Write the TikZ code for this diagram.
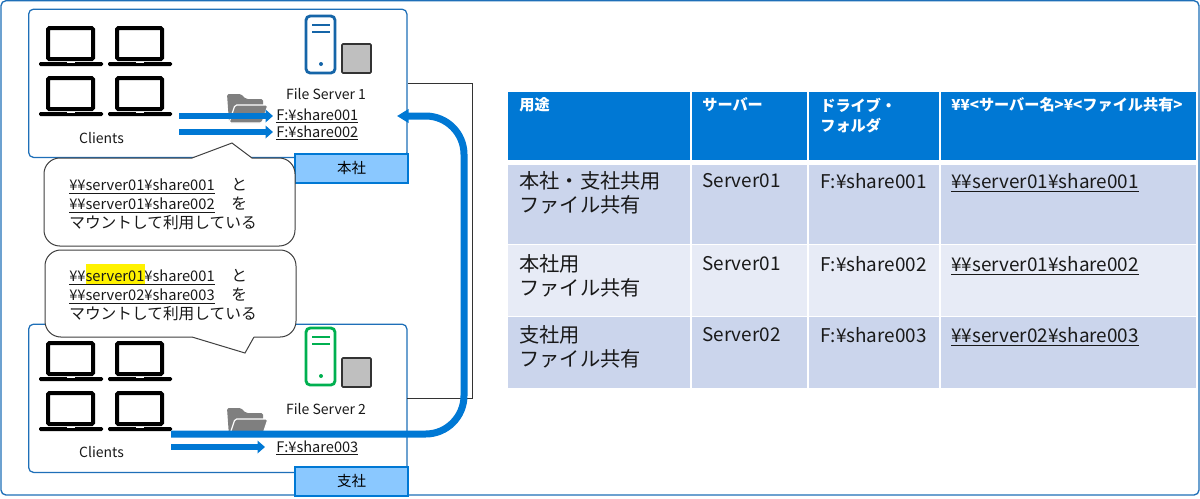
\documentclass[tikz,border=0pt]{standalone}
\usepackage{fontspec}
\setmainfont{Noto Sans CJK JP}
\newfontfamily\jpf[Scale=1.07]{Noto Sans CJK JP}
\newcommand{\J}[1]{{\jpf #1}}
\usetikzlibrary{arrows.meta}
\definecolor{msblue}{HTML}{0078D4}
\definecolor{framebl}{HTML}{1E6FB8}
\definecolor{tagfill}{HTML}{8AC8FF}
\definecolor{rowa}{HTML}{CBD5EC}
\definecolor{rowb}{HTML}{E7EBF6}
\definecolor{srvblue}{HTML}{1565A8}
\definecolor{srvgreen}{HTML}{00B050}
\definecolor{foldgray}{HTML}{7F7F7F}
\tikzset{
  x=0.6pt,y=-0.6pt,
  site/.style={draw=framebl,line width=0.75pt,fill=white,rounded corners=3pt},
  tagbox/.style={draw=msblue,line width=1.2pt,fill=tagfill,font=\fontsize{8.7}{10}\selectfont},
  balloon/.style={draw=black!75,line width=0.6pt,fill=white},
  lab/.style={font=\fontsize{8.4}{10}\selectfont,inner sep=0pt,text=black!90},
  sharelab/.style={font=\fontsize{8.75}{10}\selectfont,inner sep=0pt,text=black!90,anchor=west},
  balloontext/.style={font=\fontsize{8.8}{11.4}\selectfont,inner sep=0pt,anchor=north west,align=left,text=black!90},
  head/.style={font=\fontsize{9.1}{12.2}\selectfont\bfseries,inner sep=0pt,anchor=north west,align=left,text=white},
  cell/.style={font=\fontsize{11.35}{14.4}\selectfont,inner sep=0pt,anchor=north west,align=left,text=black!90},
  flow/.style={draw=msblue,line width=3.6pt,-{Triangle[width=7.5pt,length=4.5pt]}},
  bigflow/.style={draw=msblue,line width=4.2pt,rounded corners=23pt,-{Triangle[width=8pt,length=7pt]}},
  laptop/.pic={
    \draw[black,line width=2.4pt,rounded corners=0.8pt,fill=white] (9,-31) rectangle (54,0);
    \fill[black,rounded corners=0.8pt] (0,3) rectangle (64,7);
    \fill[white] (28,3) rectangle (36,4.3);
  },
  srv/.pic={
    \draw[line width=1.7pt,rounded corners=2.5pt,draw=#1,fill=white] (0,0) rectangle (29,57);
    \draw[line width=1.5pt,draw=#1] (6,9) -- (24,9) (6,16) -- (24,16);
    \fill[#1] (15,48) circle (2);
  },
  disk/.pic={
    \draw[line width=1pt,draw=black!80,fill=black!25,rounded corners=0.6pt] (0,0) rectangle (29,29);
  },
  folder/.pic={
    \fill[foldgray,rounded corners=1pt] (0,0) -- (14,0) -- (19,5) -- (36,5) -- (36,28) -- (2,28) -- cycle;
    \draw[white,line width=0.7pt,fill=foldgray,rounded corners=1pt] (8,11) -- (41,11) -- (35,29) -- (2,29) -- cycle;
  },
}
\newcommand{\lapgrid}[2]{%
  \pic at (#1,#2) {laptop};
  \pic at (#1+69,#2) {laptop};
  \pic at (#1,#2+50) {laptop};
  \pic at (#1+69,#2+50) {laptop};
}
\begin{document}
\begin{tikzpicture}
\useasboundingbox (0,0) rectangle (1200,498);
\fill[white] (0,0) rectangle (1200,498);
% outer frame
\draw[draw=framebl,line width=0.8pt,rounded corners=3pt] (1,0.7) rectangle (1199,495);

% site frames
\node[site,anchor=north west,minimum width=227pt,minimum height=89pt,inner sep=0pt] (hq) at (28,8.5) {};
\node[site,anchor=north west,minimum width=227pt,minimum height=89pt,inner sep=0pt] (br) at (28,323.5) {};

% thin link
\coordinate (la) at (408,83);
\coordinate (lb) at (472,83);
\coordinate (lc) at (472,398);
\coordinate (ld) at (407,398);
\draw[black!80,line width=0.5pt] (la) -- (lb) -- (lc) -- (ld);

% HQ content
\lapgrid{39}{59}
\pic at (306,16) {srv=srvblue};
\pic at (342,44) {disk};
\pic at (227,94) {folder};
\node[lab] (c1) at (101.5,138) {Clients};
\node[lab] (fs1) at (326,94) {File Server 1};
\node[sharelab] (s1) at (276,116) {\underline{F:¥share001}};
\node[sharelab] (s2) at (276,133) {\underline{F:¥share002}};
\node[tagbox,anchor=north west,minimum width=67.6pt,minimum height=17.6pt,inner sep=0pt] (tag1) at (294.4,152.6) {本社};

% Branch content
\lapgrid{39}{374}
\pic at (306,328) {srv=srvgreen};
\pic at (342,358) {disk};
\pic at (227,408) {folder};
\node[lab] (c2) at (101.5,452) {Clients};
\node[lab] (fs2) at (326,409) {File Server 2};
\node[sharelab] (s3) at (276,448) {\underline{F:¥share003}};
\node[tagbox,anchor=north west,minimum width=67.6pt,minimum height=17.6pt,inner sep=0pt] (tag2) at (294.4,465.8) {支社};

% flows
\coordinate (f1a) at (179,116);
\coordinate (f1b) at (273,116);
\coordinate (f2a) at (179,132);
\coordinate (f2b) at (273,132);
\coordinate (f3a) at (171,447);
\coordinate (f3b) at (265,447);
\draw[flow] (f1a) -- (f1b);
\draw[flow] (f2a) -- (f2b);
\draw[flow] (f3a) -- (f3b);
\coordinate (g1) at (171,434);
\coordinate (g2) at (464,434);
\coordinate (g3) at (464,116);
\coordinate (g4) at (397,116);
\draw[bigflow] (g1) -- (g2) -- (g3) -- (g4);

% balloons
\draw[balloon] (192,158) -- (232,143) -- (252,158) [rounded corners=9.5pt] -- (295,158) -- (295,246) -- (44,246) -- (44,158) -- (192,158);
\draw[balloon] (254,337) -- (245,353) -- (192,337) [rounded corners=9.5pt] -- (45,337) -- (45,250) -- (296,250) -- (296,337) -- (254,337);
\fill[yellow] (86,264) rectangle (145,284);
\node[balloontext] (b1) at (69,178) {\underline{¥¥server01¥share001}\hspace{10pt}\J{と}\\\underline{¥¥server01¥share002}\hspace{10pt}\J{を}\\\J{マウントして利用している}};
\node[balloontext] (b2) at (69,269) {\underline{¥¥server01¥share001}\hspace{10pt}\J{と}\\\underline{¥¥server02¥share003}\hspace{10pt}\J{を}\\\J{マウントして利用している}};

% table
\fill[msblue] (508,92) rectangle (1196,160);
\fill[rowa] (508,165) rectangle (1196,244);
\fill[rowb] (508,245) rectangle (1196,316);
\fill[rowa] (508,317) rectangle (1196,388);
\draw[white,line width=0.7pt] (691,92) -- (691,388) (808,92) -- (808,388) (940,92) -- (940,388);

\node[head] (h1) at (519,97.5) {用途};
\node[head] (h2) at (702,97.5) {サーバー};
\node[head] (h3) at (820,97.5) {ドライブ・\\フォルダ};
\node[head] (h4) at (951,97.5) {¥¥<サーバー名>¥<ファイル共有>};

\node[cell] (r11) at (519,171) {\J{本社・支社共用}\\\J{ファイル共有}};
\node[cell] (r12) at (702,173) {Server01};
\node[cell] (r13) at (820,173) {F:¥share001};
\node[cell] (r14) at (951,173) {\underline{¥¥server01¥share001}};

\node[cell] (r21) at (519,254) {\J{本社用}\\\J{ファイル共有}};
\node[cell] (r22) at (702,256) {Server01};
\node[cell] (r23) at (820,256) {F:¥share002};
\node[cell] (r24) at (951,256) {\underline{¥¥server01¥share002}};

\node[cell] (r31) at (519,325) {\J{支社用}\\\J{ファイル共有}};
\node[cell] (r32) at (702,327) {Server02};
\node[cell] (r33) at (820,327) {F:¥share003};
\node[cell] (r34) at (951,327) {\underline{¥¥server02¥share003}};
\end{tikzpicture}
\end{document}
